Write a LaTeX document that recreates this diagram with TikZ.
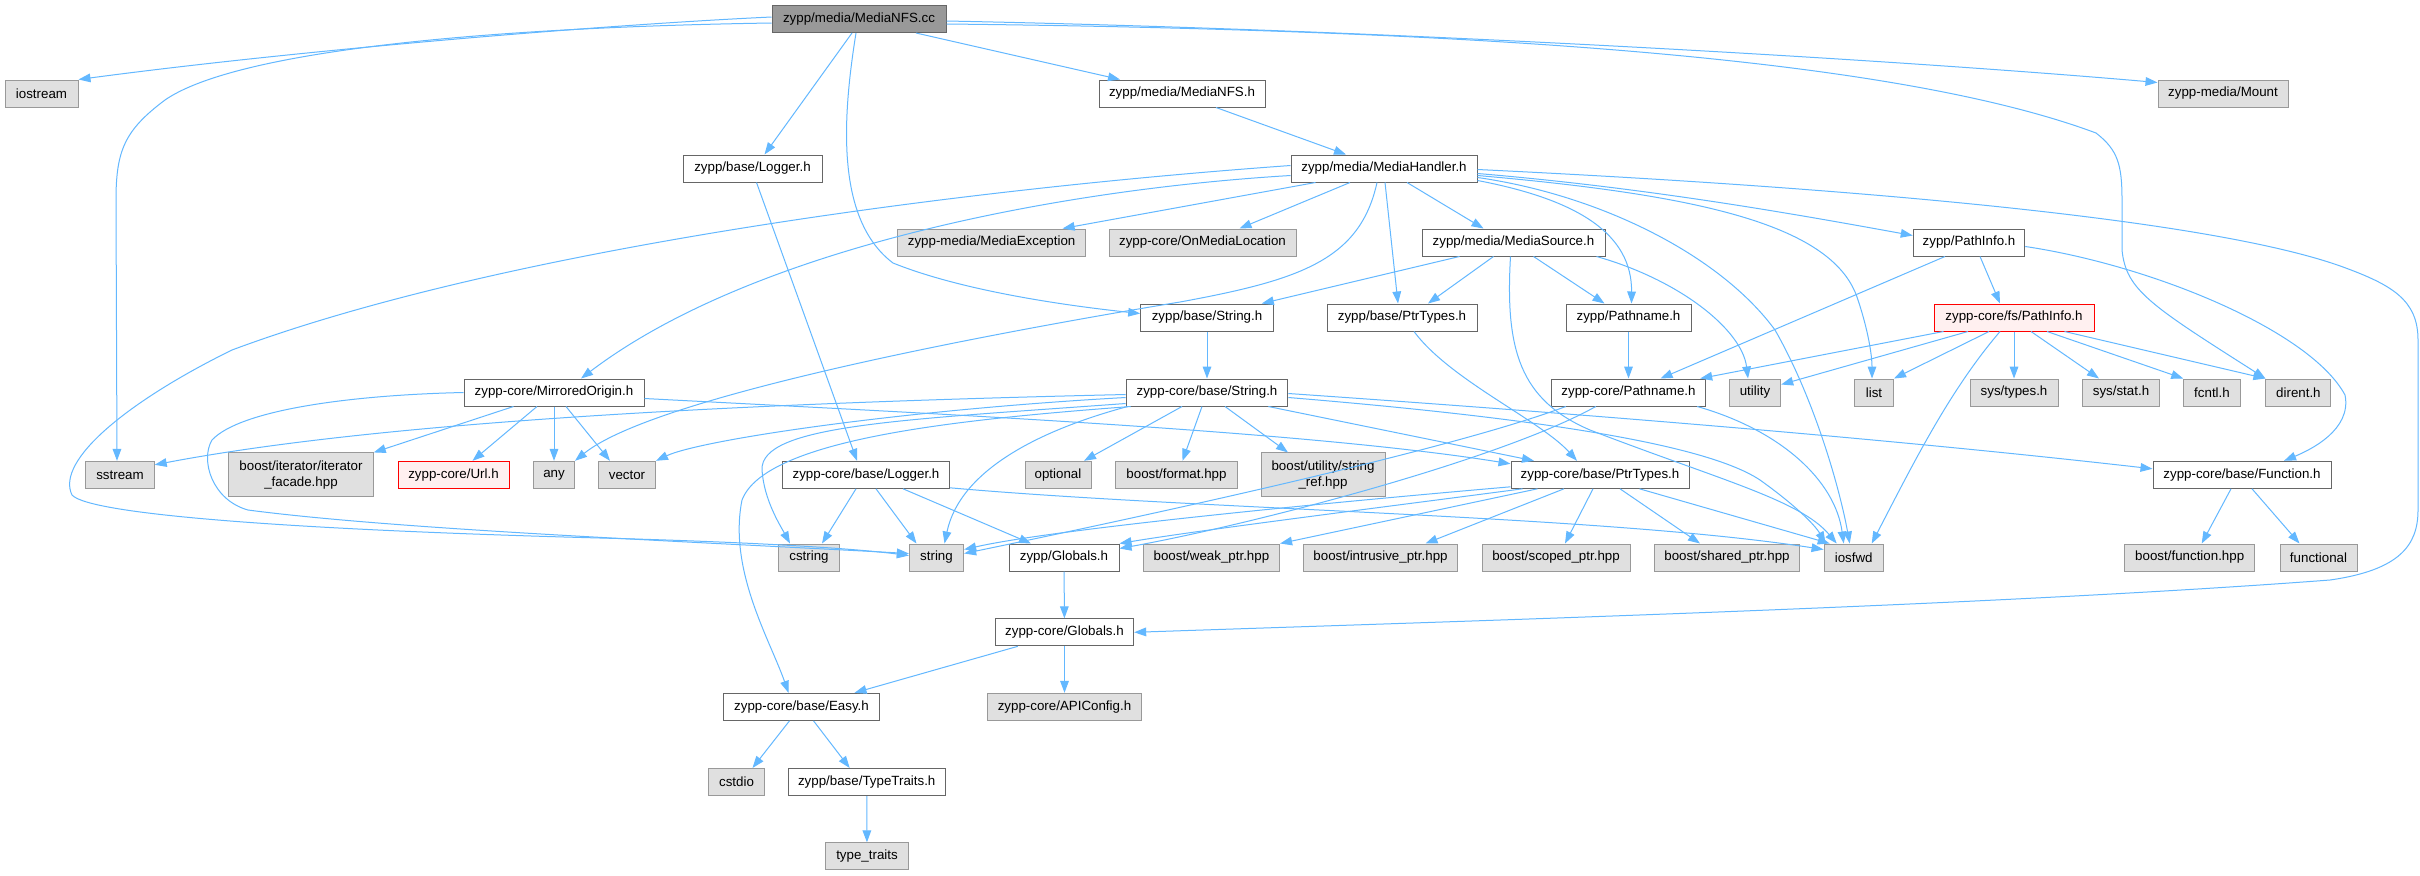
\documentclass[tikz,border=0pt]{standalone}
\usepackage{fontspec}
\setmainfont{Liberation Sans}
\usetikzlibrary{arrows.meta,calc}
\definecolor{edgec}{HTML}{63B8FF}
\definecolor{gsix}{HTML}{666666}
\definecolor{gnine}{HTML}{999999}
\definecolor{gezero}{HTML}{E0E0E0}
\definecolor{redb}{HTML}{FF0000}
\definecolor{redf}{HTML}{FFF0F0}
\begin{document}
\begin{tikzpicture}[x=0.75pt,y=-0.75pt,
  basebox/.style={rectangle, inner sep=0pt, minimum height=20.25pt, line width=0.75pt, font=\fontsize{10}{12}\selectfont, text=black},
  wn/.style={basebox, draw=gsix, fill=white, minimum width=#1*0.75pt},
  gn/.style={basebox, draw=gnine, fill=gezero, minimum width=#1*0.75pt},
  rn/.style={basebox, draw=redb, fill=redf, minimum width=#1*0.75pt},
  rootn/.style={basebox, draw=gsix, fill=gnine, minimum width=#1*0.75pt},
  tallbox/.style={minimum height=32.8pt, align=center},
  e/.style={draw=edgec, line width=0.75pt, -{Triangle[length=9pt,width=6.5pt]}}]
\fill[white] (0,0) rectangle (2420,875);
\useasboundingbox (0,0) rectangle (2420,875);
% nodes
\node[rootn=174] (cc) at (859,19) {zypp/media/MediaNFS.cc};
\node[gn=73] (iostream) at (41.5,93.5) {iostream};
\node[wn=166] (nfsh) at (1182,93.5) {zypp/media/MediaNFS.h};
\node[gn=130] (mount) at (2223,93.5) {zypp-media/Mount};
\node[wn=139] (logger) at (752.5,168.5) {zypp/base/Logger.h};
\node[wn=186] (handler) at (1384,168.5) {zypp/media/MediaHandler.h};
\node[gn=188] (mexc) at (991.6,242.5) {zypp-media/MediaException};
\node[gn=187] (onmedia) at (1202.5,242.5) {zypp-core/OnMediaLocation};
\node[wn=183] (msrc) at (1513.5,242.5) {zypp/media/MediaSource.h};
\node[wn=111.5] (pathinfo) at (1969,242.5) {zypp/PathInfo.h};
\node[wn=132.6] (strb) at (1207,317.5) {zypp/base/String.h};
\node[wn=150] (ptrb) at (1402,317.5) {zypp/base/PtrTypes.h};
\node[wn=125] (pathz) at (1628.5,317.5) {zypp/Pathname.h};
\node[rn=160] (fsinfo) at (2014,317.5) {zypp-core/fs/PathInfo.h};
\node[wn=180] (mirror) at (554,392.5) {zypp-core/MirroredOrigin.h};
\node[wn=161.6] (strcore) at (1207,392.5) {zypp-core/base/String.h};
\node[wn=154.4] (pathc) at (1628.5,392.5) {zypp-core/Pathname.h};
\node[gn=51.4] (utility) at (1755,392.5) {utility};
\node[gn=39] (list) at (1874,392.5) {list};
\node[gn=88] (systypes) at (2014,392.5) {sys/types.h};
\node[gn=77] (systat) at (2121,392.5) {sys/stat.h};
\node[gn=56.5] (fcntl) at (2212,392.5) {fcntl.h};
\node[gn=65] (dirent) at (2298.4,392.5) {dirent.h};
\node[gn=68.4] (sstream) at (120,474.8) {sstream};
\node[gn=144.5, tallbox] (iter) at (301,474.8) {boost/iterator/iterator\\\_facade.hpp};
\node[rn=111] (url) at (453.5,474.8) {zypp-core/Url.h};
\node[gn=41] (any) at (554,474.8) {any};
\node[gn=57] (vector) at (627,474.8) {vector};
\node[wn=167] (loggercore) at (866,474.8) {zypp-core/base/Logger.h};
\node[gn=66] (optional) at (1058,474.8) {optional};
\node[gn=122] (format) at (1176.5,474.8) {boost/format.hpp};
\node[gn=124, tallbox] (strref) at (1323,474.8) {boost/utility/string\\\_ref.hpp};
\node[wn=178] (ptrcore) at (1600,474.8) {zypp-core/base/PtrTypes.h};
\node[wn=178] (funccore) at (2242,474.8) {zypp-core/base/Function.h};
\node[gn=60.4] (cstring) at (809,557.5) {cstring};
\node[gn=54.3] (string) at (936.5,557.5) {string};
\node[wn=110] (globz) at (1064,557.5) {zypp/Globals.h};
\node[gn=136.4] (weak) at (1211.4,557.5) {boost/weak\_ptr.hpp};
\node[gn=154] (intrusive) at (1380.5,557.5) {boost/intrusive\_ptr.hpp};
\node[gn=148] (scoped) at (1556,557.5) {boost/scoped\_ptr.hpp};
\node[gn=145.4] (shared) at (1727,557.5) {boost/shared\_ptr.hpp};
\node[gn=59.3] (iosfwd) at (1853.7,557.5) {iosfwd};
\node[gn=130] (fhpp) at (2189.7,557.5) {boost/function.hpp};
\node[gn=77] (functional) at (2318.5,557.5) {functional};
\node[wn=138.3] (globcore) at (1064.5,632.3) {zypp-core/Globals.h};
\node[wn=156] (easy) at (801.5,706.8) {zypp-core/base/Easy.h};
\node[gn=153.5] (apiconf) at (1064.5,706.8) {zypp-core/APIConfig.h};
\node[gn=55.6] (cstdio) at (736.5,782) {cstdio};
\node[wn=157.4] (tt) at (866.7,782) {zypp/base/TypeTraits.h};
\node[gn=83] (typetraits) at (867,856.3) {type\_traits};
% edges from MediaNFS.cc
\draw[e] ($(cc.west)+(0,-2)$) .. controls (600,25) and (300,50) .. (iostream.north east);
\draw[e] ($(cc.west)+(0,4)$) .. controls (450,28) and (230,55) .. (165,100) .. controls (125,130) and (116,150) .. (116,200) -- ($(sstream.north)+(-3,0)$);
\draw[e] ($(cc.south)+(-7,0)$) -- ($(logger.north)+(12,0)$);
\draw[e] ($(cc.south)+(57,0)$) -- ($(nfsh.north)+(-62,0)$);
\draw[e] ($(cc.east)+(0,2)$) .. controls (1400,30) and (1900,60) .. ($(mount.west)+(0,-11)$);
\draw[e] ($(cc.east)+(0,5)$) .. controls (1500,30) and (1900,60) .. (2096,133) .. controls (2118,150) and (2122,165) .. (2122,200) -- (2122,250) .. controls (2126,290) and (2150,305) .. (dirent.north west);
\draw[e] ($(cc.south)+(-3,0)$) .. controls (842,120) and (836,220) .. (893,263) .. controls (960,290) and (1060,305) .. ($(strb.west)+(0,-4)$);
\draw[e] ($(nfsh.south)+(34,0)$) -- ($(handler.north)+(-38,0)$);
\draw[e] ($(logger.south)+(4,0)$) -- ($(loggercore.north)+(-9,0)$);
% MediaHandler
\draw[e] ($(handler.west)+(0,-3)$) .. controls (950,190) and (500,250) .. (232,350) .. controls (130,400) and (55,460) .. (72,495) .. controls (90,515) and (300,530) .. (600,538) .. controls (750,542) and (850,548) .. ($(string.west)+(0,-2)$);
\draw[e] ($(handler.west)+(0,7)$) .. controls (1050,190) and (750,250) .. ($(mirror.north)+(27,0)$);
\draw[e] ($(handler.south west)+(25,0)$) -- ($(mexc.north)+(71,0)$);
\draw[e] ($(handler.south)+(-34,0)$) -- ($(onmedia.north)+(37,0)$);
\draw[e] ($(handler.south)+(-7,0)$) .. controls (1360,260) and (1300,280) .. (1180,302) .. controls (950,340) and (650,400) .. (any.north east);
\draw[e] ($(handler.south)+(1,0)$) -- ($(ptrb.north)+(-4,0)$);
\draw[e] ($(handler.south)+(23,0)$) -- ($(msrc.north)+(-30,0)$);
\draw[e] ($(handler.south east)+(0,-2)$) .. controls (1580,200) and (1632,235) .. ($(pathz.north)+(3,0)$);
\draw[e] ($(handler.east)+(0,9)$) .. controls (1600,195) and (1720,255) .. (1775,330) .. controls (1815,400) and (1840,490) .. ($(iosfwd.north)+(-4,0)$);
\draw[e] ($(handler.east)+(0,7)$) .. controls (1700,195) and (1835,225) .. (1858,300) .. controls (1868,330) and (1872,355) .. ($(list.north)+(-2,0)$);
\draw[e] ($(handler.east)+(0,5)$) .. controls (1650,188) and (1800,215) .. ($(pathinfo.west)+(0,-7)$);
\draw[e] ($(handler.east)+(0,1)$) .. controls (1800,185) and (2200,215) .. (2343,267) .. controls (2392,285) and (2418,300) .. (2418,340) -- (2418,510) .. controls (2418,545) and (2400,570) .. (2330,580) .. controls (2000,605) and (1500,620) .. (globcore.east);
% MediaSource
\draw[e] ($(msrc.south west)+(38,0)$) -- ($(strb.north east)+(-12,0)$);
\draw[e] ($(msrc.south)+(-20,0)$) -- ($(ptrb.north)+(26,0)$);
\draw[e] ($(msrc.south)+(20,0)$) -- ($(pathz.north)+(-24,0)$);
\draw[e] ($(msrc.south east)+(-9,0)$) .. controls (1680,280) and (1742,330) .. ($(utility.north)+(-7,0)$);
\draw[e] ($(msrc.south)+(-3,0)$) .. controls (1505,350) and (1520,400) .. (1590,430) .. controls (1720,480) and (1800,500) .. ($(iosfwd.north)+(-17,0)$);
% PathInfo
\draw[e] ($(pathinfo.south)+(11,0)$) -- ($(fsinfo.north)+(-14,0)$);
\draw[e] ($(pathinfo.south)+(-24,0)$) -- ($(pathc.north)+(32,0)$);
\draw[e] ($(pathinfo.east)+(0,4)$) .. controls (2150,265) and (2310,330) .. (2345,395) .. controls (2352,430) and (2310,450) .. ($(funccore.north)+(42,0)$);
% row 5 to row 6
\draw[e] (strb) -- (strcore);
\draw[e] ($(ptrb.south)+(12,0)$) .. controls (1450,380) and (1540,420) .. ($(ptrcore.north)+(-23,0)$);
\draw[e] (pathz) -- (pathc);
\draw[e] ($(fsinfo.south west)+(10,0)$) -- ($(pathc.north east)+(-6,0)$);
\draw[e] ($(fsinfo.south)+(-46,0)$) -- ($(utility.east)+(0,-8)$);
\draw[e] ($(fsinfo.south)+(-25,0)$) -- (list.north east);
\draw[e] (fsinfo) -- (systypes);
\draw[e] ($(fsinfo.south)+(17,0)$) -- ($(systat.north)+(-22,0)$);
\draw[e] ($(fsinfo.south)+(33,0)$) -- (fcntl.north west);
\draw[e] ($(fsinfo.south east)+(-30,0)$) -- (dirent.north west);
\draw[e] ($(fsinfo.south)+(-14,0)$) .. controls (1950,390) and (1915,460) .. ($(iosfwd.north)+(18,0)$);
% MirroredOrigin
\draw[e] (mirror.west) .. controls (350,395) and (240,410) .. (212,440) .. controls (200,460) and (212,500) .. (248,510) .. controls (400,530) and (700,542) .. ($(string.west)+(0,-4)$);
\draw[e] ($(mirror.south west)+(50,0)$) -- (iter.north east);
\draw[e] ($(mirror.south)+(-17,0)$) -- ($(url.north)+(19,0)$);
\draw[e] (mirror) -- (any);
\draw[e] ($(mirror.south)+(12,0)$) -- ($(vector.north)+(-17,0)$);
\draw[e] ($(mirror.east)+(0,6)$) .. controls (900,412) and (1300,430) .. ($(ptrcore.west)+(0,-11)$);
% zypp-core/base/String.h
\draw[e] ($(strcore.west)+(0,2)$) .. controls (800,402) and (400,418) .. ($(sstream.east)+(0,-10)$);
\draw[e] ($(strcore.south west)+(0,-3)$) .. controls (900,420) and (760,425) .. (762,470) .. controls (764,500) and (780,525) .. ($(cstring.north)+(-19,0)$);
\draw[e] ($(strcore.south west)+(5,0)$) .. controls (950,420) and (765,440) .. (742,500) .. controls (728,570) and (770,640) .. ($(easy.north)+(-13,0)$);
\draw[e] ($(strcore.west)+(0,5)$) .. controls (900,410) and (700,440) .. (vector.north east);
\draw[e] ($(strcore.south west)+(2,0)$) .. controls (1040,430) and (960,470) .. ($(string.north)+(8,0)$);
\draw[e] ($(strcore.south)+(-25,0)$) -- ($(optional.north)+(26,0)$);
\draw[e] ($(strcore.south)+(-5,0)$) -- ($(format.north)+(6,0)$);
\draw[e] ($(strcore.south)+(18,0)$) -- ($(strref.north)+(-35,0)$);
\draw[e] ($(strcore.south east)+(-20,0)$) -- ($(ptrcore.north)+(-66,0)$);
\draw[e] ($(strcore.east)+(0,5)$) .. controls (1500,415) and (1700,440) .. (1760,480) .. controls (1795,505) and (1815,525) .. ($(iosfwd.north west)+(2,0)$);
\draw[e] ($(strcore.east)+(0,1)$) .. controls (1600,415) and (1900,440) .. ($(funccore.west)+(0,-6)$);
% zypp-core/base/Logger.h
\draw[e] ($(loggercore.south)+(-10,0)$) -- ($(cstring.north)+(13,0)$);
\draw[e] ($(loggercore.south)+(10,0)$) -- ($(string.north)+(-20,0)$);
\draw[e] ($(loggercore.south)+(37,0)$) -- ($(globz.north)+(-33,0)$);
\draw[e] ($(loggercore.east)+(0,13)$) .. controls (1200,510) and (1600,515) .. ($(iosfwd.west)+(0,-8)$);
% zypp-core/base/PtrTypes.h
\draw[e] ($(ptrcore.south west)+(0,-2)$) .. controls (1300,505) and (1050,530) .. ($(string.east)+(0,-8)$);
\draw[e] ($(ptrcore.south west)+(12,0)$) .. controls (1400,505) and (1200,530) .. (globz.north east);
\draw[e] ($(ptrcore.south west)+(27,0)$) -- (weak.north east);
\draw[e] ($(ptrcore.south)+(-36,0)$) -- ($(intrusive.north)+(45,0)$);
\draw[e] ($(ptrcore.south)+(-7,0)$) -- ($(scoped.north)+(9,0)$);
\draw[e] ($(ptrcore.south)+(20,0)$) -- ($(shared.north)+(-27,0)$);
\draw[e] ($(ptrcore.south east)+(-50,0)$) -- ($(iosfwd.north)+(-24,0)$);
% zypp-core/Pathname.h
\draw[e] ($(pathc.south west)+(15,0)$) .. controls (1450,450) and (1150,515) .. ($(string.east)+(0,-4)$);
\draw[e] ($(pathc.south west)+(45,0)$) .. controls (1500,460) and (1250,525) .. ($(globz.east)+(0,-9)$);
\draw[e] ($(pathc.south east)+(-9,0)$) .. controls (1780,430) and (1835,480) .. ($(iosfwd.north)+(-10,0)$);
% Function
\draw[e] ($(funccore.south)+(-11,0)$) -- ($(fhpp.north)+(12,0)$);
\draw[e] ($(funccore.south)+(10,0)$) -- ($(functional.north)+(-19,0)$);
% Globals, Easy
\draw[e] (globz) -- (globcore);
\draw[e] ($(globcore.south west)+(23,0)$) -- ($(easy.north)+(53,0)$);
\draw[e] (globcore) -- (apiconf);
\draw[e] ($(easy.south)+(-12,0)$) -- ($(cstdio.north)+(16,0)$);
\draw[e] ($(easy.south)+(12,0)$) -- ($(tt.north)+(-17,0)$);
\draw[e] (tt) -- (typetraits);
\end{tikzpicture}
\end{document}
